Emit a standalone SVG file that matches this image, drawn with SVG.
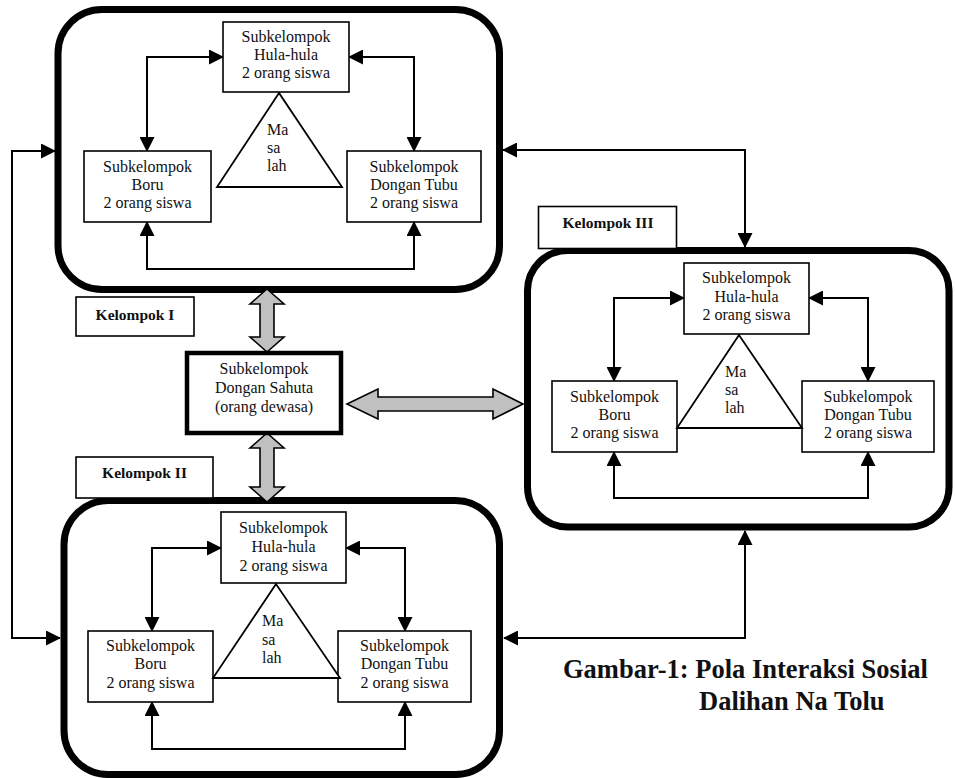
<svg xmlns="http://www.w3.org/2000/svg" width="955" height="778" viewBox="0 0 955 778">
<defs>
<marker id="ah" markerUnits="userSpaceOnUse" markerWidth="15" markerHeight="15" viewBox="0 0 15 15" refX="14" refY="7.5" orient="auto-start-reverse">
<path d="M0,0 L15,7.5 L0,15 z" fill="#000"/>
</marker>
</defs>
<style>
.grp{fill:#fff;stroke:#000;stroke-width:7}
.box{fill:#fff;stroke:#000;stroke-width:1.6}
.lbl{fill:#fff;stroke:#000;stroke-width:1.6}
.tri{fill:#fff;stroke:#000;stroke-width:1.8;stroke-linejoin:miter}
.t{font-family:"Liberation Serif","Times New Roman",serif;font-size:16px;fill:#111;text-anchor:middle}
.tl{font-family:"Liberation Serif","Times New Roman",serif;font-size:16px;fill:#111}
.b{font-family:"Liberation Serif","Times New Roman",serif;font-size:15.5px;font-weight:bold;fill:#111;text-anchor:middle}
.cap{font-family:"Liberation Serif","Times New Roman",serif;font-size:26.5px;font-weight:bold;fill:#111}
.c{fill:none;stroke:#000;stroke-width:2;marker-start:url(#ah);marker-end:url(#ah)}
.blk{fill:#c0c0c0;stroke:#000;stroke-width:1.6;stroke-linejoin:miter}
</style>
<rect width="955" height="778" fill="#fff"/>

<!-- Group containers -->
<g id="kelompok1">
<rect class="grp" x="58" y="9.5" width="441.5" height="280" rx="44"/>
</g>
<g id="kelompok2">
<rect class="grp" x="64" y="500.5" width="435.5" height="274" rx="44"/>
</g>
<g id="kelompok3">
<rect class="grp" x="527.5" y="250.5" width="421.5" height="276.5" rx="40"/>
</g>

<!-- Connectors -->
<g id="connectors">
<path class="c" d="M147,151 V57 H223"/>
<path class="c" d="M349,57 H414 V151"/>
<path class="c" d="M147,222 V269 H414 V222"/>

<path class="c" d="M152,631 V548 H221"/>
<path class="c" d="M346,548 H405 V631"/>
<path class="c" d="M152,702 V749 H405 V702"/>

<path class="c" d="M614,381 V298 H684"/>
<path class="c" d="M809,298 H868 V381"/>
<path class="c" d="M614,452 V498 H868 V452"/>

<path class="c" d="M55,151 H12 V638 H60"/>
<path class="c" d="M503,150 H745 V247"/>
<path class="c" d="M504,638 H745 V531"/>

<polygon class="blk" points="267,289 284,304 274,304 274,337 284,337 267,352 250,337 260,337 260,304 250,304"/>
<polygon class="blk" points="267,433 284,448 274,448 274,487 284,487 267,502 250,487 260,487 260,448 250,448"/>
<polygon class="blk" points="347,404 378,389 378,397 493,397 493,389 523,404 493,419 493,411 378,411 378,419"/>
</g>

<!-- Group I nodes -->
<g id="g1-hulahula">
<rect class="box" x="223" y="22" width="126" height="70"/>
<text class="t" x="286" y="42">Subkelompok</text>
<text class="t" x="286" y="60">Hula-hula</text>
<text class="t" x="286" y="78">2 orang siswa</text>
</g>
<g id="g1-boru">
<rect class="box" x="84" y="151" width="127" height="71"/>
<text class="t" x="147.5" y="172">Subkelompok</text>
<text class="t" x="147.5" y="190">Boru</text>
<text class="t" x="147.5" y="208">2 orang siswa</text>
</g>
<g id="g1-dongantubu">
<rect class="box" x="347" y="151" width="134" height="71"/>
<text class="t" x="414" y="172">Subkelompok</text>
<text class="t" x="414" y="190">Dongan Tubu</text>
<text class="t" x="414" y="208">2 orang siswa</text>
</g>
<g id="g1-masalah">
<polygon class="tri" points="279,93 217,187 342,187"/>
<text class="tl" x="267" y="135">Ma</text>
<text class="tl" x="267" y="153">sa</text>
<text class="tl" x="267" y="171">lah</text>
</g>

<!-- Group II nodes -->
<g id="g2-hulahula">
<rect class="box" x="221" y="512" width="125" height="71"/>
<text class="t" x="283.5" y="533">Subkelompok</text>
<text class="t" x="283.5" y="552">Hula-hula</text>
<text class="t" x="283.5" y="571">2 orang siswa</text>
</g>
<g id="g2-boru">
<rect class="box" x="88" y="631" width="125" height="71"/>
<text class="t" x="150.5" y="651">Subkelompok</text>
<text class="t" x="150.5" y="669">Boru</text>
<text class="t" x="150.5" y="688">2 orang siswa</text>
</g>
<g id="g2-dongantubu">
<rect class="box" x="338" y="631" width="133" height="71"/>
<text class="t" x="404.5" y="651">Subkelompok</text>
<text class="t" x="404.5" y="669">Dongan Tubu</text>
<text class="t" x="404.5" y="688">2 orang siswa</text>
</g>
<g id="g2-masalah">
<polygon class="tri" points="276,584 213,678 340,678"/>
<text class="tl" x="262" y="626">Ma</text>
<text class="tl" x="262" y="645">sa</text>
<text class="tl" x="262" y="663">lah</text>
</g>

<!-- Group III nodes -->
<g id="g3-hulahula">
<rect class="box" x="684" y="263" width="125" height="71"/>
<text class="t" x="746.5" y="283">Subkelompok</text>
<text class="t" x="746.5" y="302">Hula-hula</text>
<text class="t" x="746.5" y="320">2 orang siswa</text>
</g>
<g id="g3-boru">
<rect class="box" x="552" y="381" width="125" height="71"/>
<text class="t" x="614.5" y="402">Subkelompok</text>
<text class="t" x="614.5" y="420">Boru</text>
<text class="t" x="614.5" y="438">2 orang siswa</text>
</g>
<g id="g3-dongantubu">
<rect class="box" x="802" y="381" width="132" height="71"/>
<text class="t" x="868" y="402">Subkelompok</text>
<text class="t" x="868" y="420">Dongan Tubu</text>
<text class="t" x="868" y="438">2 orang siswa</text>
</g>
<g id="g3-masalah">
<polygon class="tri" points="739,335 677,428 802,428"/>
<text class="tl" x="725" y="377">Ma</text>
<text class="tl" x="725" y="395">sa</text>
<text class="tl" x="725" y="413">lah</text>
</g>

<!-- Labels -->
<g id="label-kelompok1">
<rect class="lbl" x="76" y="297" width="118" height="39"/>
<text class="b" x="135" y="320">Kelompok I</text>
</g>
<g id="label-kelompok2">
<rect class="lbl" x="76" y="457" width="137" height="41"/>
<text class="b" x="144.5" y="478">Kelompok II</text>
</g>
<g id="label-kelompok3">
<rect class="lbl" x="538.5" y="206.5" width="138" height="42"/>
<text class="b" x="608" y="228">Kelompok III</text>
</g>

<!-- Central node -->
<g id="dongan-sahuta">
<rect x="187" y="353" width="154" height="80" fill="#fff" stroke="#000" stroke-width="4.5"/>
<text class="t" x="264" y="374">Subkelompok</text>
<text class="t" x="264" y="393">Dongan Sahuta</text>
<text class="t" x="264" y="412">(orang dewasa)</text>
</g>

<!-- Caption -->
<g id="caption">
<text class="cap" x="563" y="678">Gambar-1: Pola Interaksi Sosial</text>
<text class="cap" x="699" y="710">Dalihan Na Tolu</text>
</g>
</svg>
